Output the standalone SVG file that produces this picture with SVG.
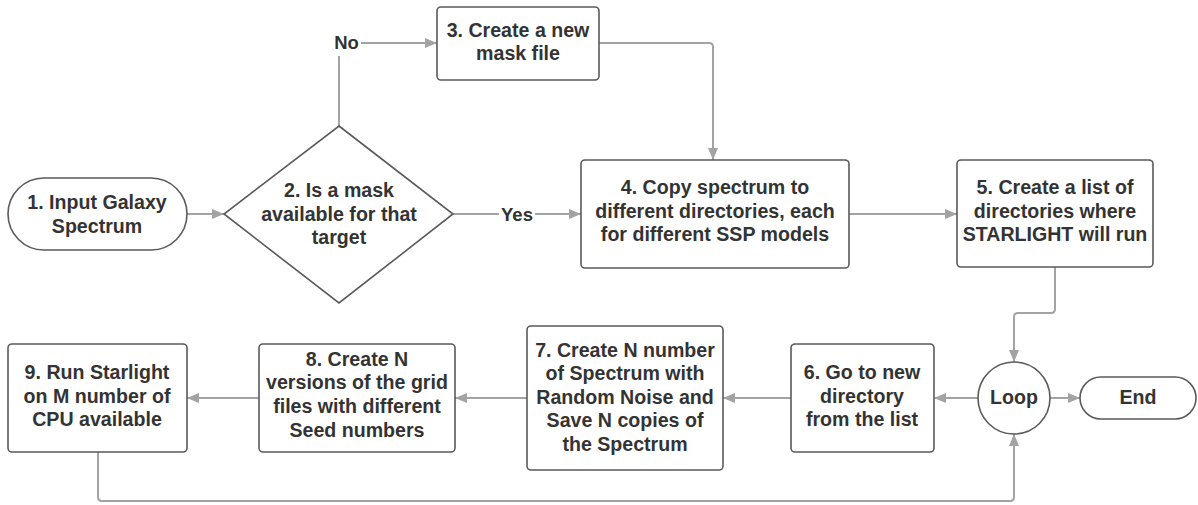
<svg xmlns="http://www.w3.org/2000/svg" width="1198" height="505" viewBox="0 0 1198 505">
<defs>
<style>
.n{fill:#fff;stroke:#5a5a5a;stroke-width:1.6}
.t{font-family:"Liberation Sans",Arial,sans-serif;font-weight:bold;font-size:19.6px;fill:#333;text-anchor:middle;dominant-baseline:central}
.c{fill:none;stroke:#a3a3a3;stroke-width:2;stroke-linejoin:round}
.lb{font-family:"Liberation Sans",Arial,sans-serif;font-weight:bold;font-size:18.5px;fill:#333;text-anchor:middle;dominant-baseline:central}
</style>
<marker id="a" markerUnits="userSpaceOnUse" markerWidth="13" markerHeight="11" refX="12" refY="5" orient="auto">
<path d="M0,0 L12,5 L0,10 z" fill="#a3a3a3"/>
</marker>
</defs>
<rect width="1198" height="505" fill="#fff"/>
<g id="connectors">
<path class="c" d="M186,214 H224" marker-end="url(#a)"/>
<path class="c" d="M339,126 V43 H437" marker-end="url(#a)"/>
<path class="c" d="M599,43 H709 Q713,43 713,47 V160" marker-end="url(#a)"/>
<path class="c" d="M453,214 H581" marker-end="url(#a)"/>
<path class="c" d="M849,214 H957" marker-end="url(#a)"/>
<path class="c" d="M1055,267 V309 Q1055,313 1051,313 H1018 Q1014,313 1014,317 V362" marker-end="url(#a)"/>
<path class="c" d="M978,398 H934" marker-end="url(#a)"/>
<path class="c" d="M1050,398 H1080" marker-end="url(#a)"/>
<path class="c" d="M791,398 H723" marker-end="url(#a)"/>
<path class="c" d="M527,398 H455" marker-end="url(#a)"/>
<path class="c" d="M259,398 H187" marker-end="url(#a)"/>
<path class="c" d="M98,452 V497 Q98,501 102,501 H1010 Q1014,501 1014,497 V434" marker-end="url(#a)"/>
<rect x="331" y="30" width="30" height="26" fill="#fff"/>
<text class="lb" x="346.5" y="42">No</text>
<rect x="499" y="203" width="36" height="22" fill="#fff"/>
<text class="lb" x="517" y="214">Yes</text>
</g>
<g id="n1">
<rect class="n" x="8" y="178" width="179" height="72" rx="36"/>
<text class="t" x="97" y="202">1. Input Galaxy</text>
<text class="t" x="97" y="225.5">Spectrum</text>
</g>
<g id="n2">
<path class="n" d="M339,126 L453,214 L339,303 L224,214 Z"/>
<text class="t" x="339" y="190">2. Is a mask</text>
<text class="t" x="339" y="213.5">available for that</text>
<text class="t" x="339" y="237">target</text>
</g>
<g id="n3">
<rect class="n" x="437" y="7" width="162" height="73" rx="4"/>
<text class="t" x="518" y="29.5">3. Create a new</text>
<text class="t" x="518" y="53">mask file</text>
</g>
<g id="n4">
<rect class="n" x="581" y="160" width="268" height="108" rx="4"/>
<text class="t" x="715" y="187">4. Copy spectrum to</text>
<text class="t" x="715" y="210.5">different directories, each</text>
<text class="t" x="715" y="234">for different SSP models</text>
</g>
<g id="n5">
<rect class="n" x="957" y="160" width="196" height="107" rx="4"/>
<text class="t" x="1055" y="187">5. Create a list of</text>
<text class="t" x="1055" y="210.5">directories where</text>
<text class="t" x="1055" y="234">STARLIGHT will run</text>
</g>
<g id="loop">
<ellipse class="n" cx="1014" cy="398" rx="36" ry="36"/>
<text class="t" x="1014" y="397">Loop</text>
</g>
<g id="end">
<rect class="n" x="1080" y="377" width="116" height="42" rx="21"/>
<text class="t" x="1138" y="397">End</text>
</g>
<g id="n6">
<rect class="n" x="791" y="344" width="143" height="108" rx="4"/>
<text class="t" x="862" y="372">6. Go to new</text>
<text class="t" x="862" y="395.5">directory</text>
<text class="t" x="862" y="419">from the list</text>
</g>
<g id="n7">
<rect class="n" x="527" y="326" width="196" height="144" rx="4"/>
<text class="t" x="625" y="349.5">7. Create N number</text>
<text class="t" x="625" y="373">of Spectrum with</text>
<text class="t" x="625" y="396.5">Random Noise and</text>
<text class="t" x="625" y="420">Save N copies of</text>
<text class="t" x="625" y="444">the Spectrum</text>
</g>
<g id="n8">
<rect class="n" x="259" y="344" width="196" height="108" rx="4"/>
<text class="t" x="357" y="358.5">8. Create N</text>
<text class="t" x="357" y="382">versions of the grid</text>
<text class="t" x="357" y="406">files with different</text>
<text class="t" x="357" y="430">Seed numbers</text>
</g>
<g id="n9">
<rect class="n" x="8" y="344" width="179" height="108" rx="4"/>
<text class="t" x="97" y="372">9. Run Starlight</text>
<text class="t" x="97" y="395.5">on M number of</text>
<text class="t" x="97" y="419">CPU available</text>
</g>
</svg>
